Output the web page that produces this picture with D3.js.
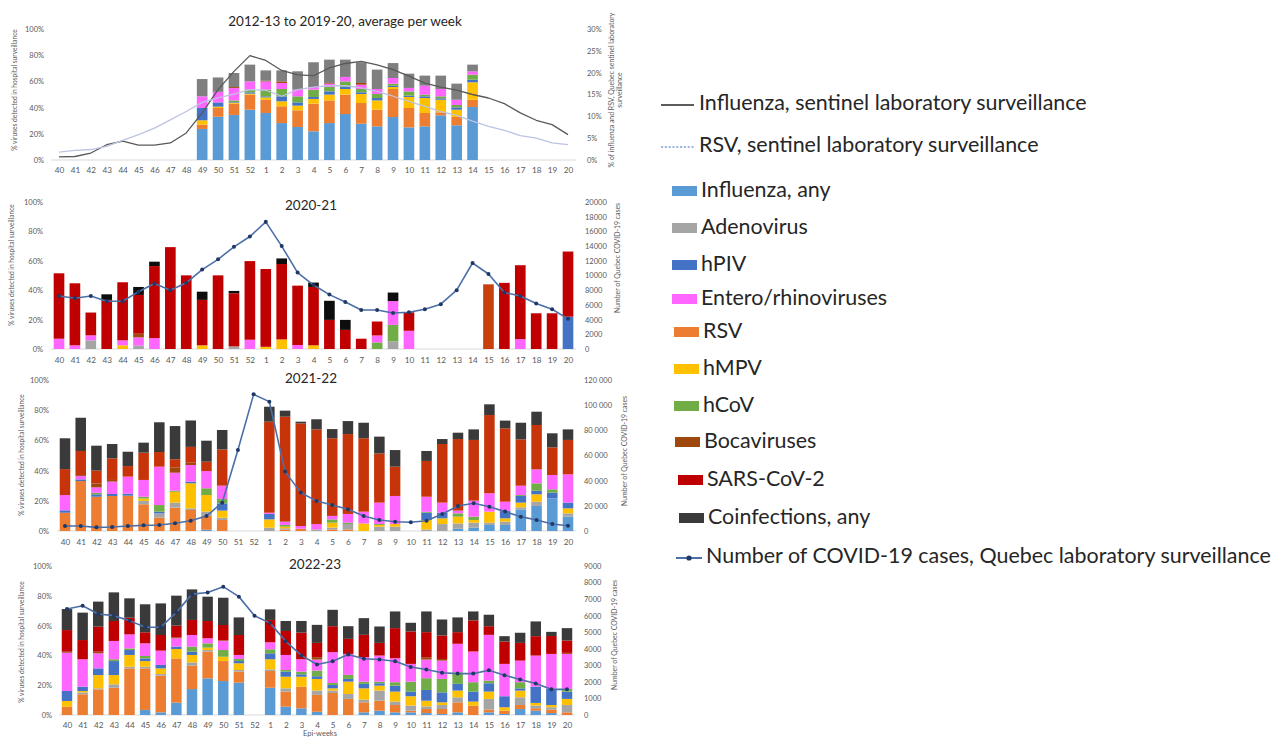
<!DOCTYPE html>
<html>
<head>
<meta charset="utf-8">
<script src="https://cdn.jsdelivr.net/npm/d3@7"></script>
<style>
  body { margin: 0; background: #fff; }
  svg { display: block; font-family: Lato, "Open Sans", sans-serif; }
</style>
</head>
<body>
<svg id="chart" width="1283" height="739"></svg>
<script>
// ---- data ----
const weeks = ["40","41","42","43","44","45","46","47","48","49","50","51","52",
  "1","2","3","4","5","6","7","8","9","10","11","12","13","14","15","16","17","18","19","20"];

// stacking order, bottom to top
const seriesKeys = ["flu","rsv","adeno","hmpv","hpiv","hcov","entero","boca","sars","coinf"];

const legendKeys = ["flu","adeno","hpiv","entero","rsv","hmpv","hcov","boca","sars","coinf"];
const legendLabels = ["Influenza, any","Adenovirus","hPIV","Entero/rhinoviruses","RSV","hMPV","hCoV",
  "Bocaviruses","SARS-CoV-2","Coinfections, any"];
const lineLegendLabels = ["Influenza, sentinel laboratory surveillance","RSV, sentinel laboratory surveillance",
  "Number of COVID-19 cases, Quebec laboratory surveillance"];

const panelTitles = ["2012-13 to 2019-20, average per week","2020-21","2021-22","2022-23"];

// % of specimens, per week: flu, rsv, adeno, hmpv, hpiv, hcov, entero, boca, sars, coinf
const bars1220 = [
  ["49", 23.7, 3.3, 0, 3.3, 9.4, 0, 8.9, 0, 0, 13.2],
  ["50", 33.0, 6.7, 0, 1.0, 3.3, 0, 8.0, 0, 0, 11.0],
  ["51", 34.4, 8.6, 0, 0.8, 0.5, 1.2, 9.5, 0.7, 0, 10.7],
  ["52", 38.4, 11.5, 0, 0.7, 1.0, 2.1, 6.3, 0, 0, 12.8],
  ["1", 35.9, 10.1, 0, 1.8, 0.8, 5.1, 6.3, 0.5, 0, 7.9],
  ["2", 28.2, 12.8, 0, 3.8, 3.8, 5.6, 4.6, 1.2, 0, 8.4],
  ["3", 25.2, 12.7, 0, 3.6, 2.5, 4.6, 5.1, 0, 0, 14.0],
  ["4", 21.9, 21.1, 0, 3.6, 1.5, 5.6, 2.0, 0, 0, 18.9],
  ["5", 28.2, 17.3, 0, 4.4, 2.5, 3.3, 2.6, 0.5, 0, 17.8],
  ["6", 35.1, 14.8, 0, 4.3, 1.5, 4.3, 3.4, 0, 0, 13.2],
  ["7", 27.7, 15.8, 0, 6.9, 1.3, 2.5, 3.3, 1.3, 0, 15.8],
  ["8", 25.7, 12.7, 0, 7.1, 1.8, 3.1, 3.8, 0, 0, 14.8],
  ["9", 32.8, 21.4, 0, 1.5, 1.0, 1.6, 4.3, 0, 0, 11.4],
  ["10", 24.9, 14.8, 0, 8.4, 1.0, 3.3, 2.6, 0, 0, 10.9],
  ["11", 25.7, 10.2, 0, 11.4, 1.3, 1.3, 6.8, 0, 0, 7.7],
  ["12", 34.1, 2.3, 0, 9.6, 1.1, 1.5, 5.6, 0, 0, 10.2],
  ["13", 26.5, 6.3, 0, 5.6, 1.8, 1.8, 4.0, 0, 0, 12.3],
  ["14", 40.5, 5.5, 0, 13.3, 2.0, 3.8, 2.6, 0, 0, 5.1]
];

const bars2021 = [
  ["40", 0, 0, 0, 0, 0, 0, 7.0, 0, 44.5, 0],
  ["41", 0, 0, 0, 0, 0, 0, 2.5, 0, 42.2, 0],
  ["42", 0, 0, 5.9, 0, 0, 0, 3.4, 0, 15.5, 0],
  ["43", 0, 0, 0, 0, 0, 0, 0, 0, 33.4, 3.8],
  ["44", 0, 0, 0, 2.5, 0, 0, 3.4, 0, 39.5, 0],
  ["45", 0, 0, 2.3, 0, 0, 0, 5.6, 2.5, 26.4, 5.4],
  ["46", 0, 0, 0, 0, 0, 0, 7.4, 0, 49.0, 3.0],
  ["47", 0, 0, 0, 0, 0, 0, 0, 0, 69.3, 0],
  ["48", 0, 0, 0, 0, 0, 0, 0, 0, 50.1, 0],
  ["49", 0, 0, 0, 2.5, 0, 0, 0, 0, 30.9, 5.6],
  ["50", 0, 0, 0, 0, 0, 0, 0, 0, 50.1, 0],
  ["51", 0, 0, 1.8, 0, 0, 0, 0, 0, 36.1, 1.6],
  ["52", 0, 0, 0, 0, 0, 0, 6.3, 0, 53.5, 0],
  ["1", 0, 0, 0, 1.5, 0, 0, 0, 0, 52.9, 0],
  ["2", 0, 0, 0, 6.5, 0, 0, 0, 0, 51.3, 3.8],
  ["3", 0, 0, 0, 0, 0, 0, 2.7, 0, 40.4, 0],
  ["4", 0, 0, 0, 2.5, 0, 0, 0, 0, 39.7, 3.0],
  ["5", 0, 0, 0, 0, 0, 0, 0, 0, 19.8, 13.0],
  ["6", 0, 0, 0, 0, 0, 0, 0, 0, 13.0, 6.8],
  ["7", 0, 0, 0, 0, 0, 0, 0, 0, 7.0, 0],
  ["8", 0, 0, 0, 0, 0, 4.5, 4.7, 0, 9.5, 0],
  ["9", 0, 0, 5.2, 0, 0, 11.2, 16.2, 0, 0, 5.8],
  ["10", 0, 0, 0, 0, 0, 0, 12.4, 0, 12.6, 0],
  ["15", 0, 0, 0, 0, 0, 0, 0, 0, 44.0, 0],
  ["16", 0, 0, 0, 0, 0, 0, 0, 0, 45.0, 0],
  ["17", 0, 0, 0, 0, 0, 0, 6.7, 0, 50.3, 0],
  ["18", 0, 0, 0, 0, 0, 0, 0, 0, 24.3, 0],
  ["19", 0, 0, 0, 0, 0, 0, 0, 0, 24.3, 0],
  ["20", 0, 0, 0, 0, 22.0, 0, 0, 0, 44.3, 0]
];

const bars2122 = [
  ["40", 0, 12.1, 0, 0, 1.6, 0, 10.1, 0, 17.2, 20.4],
  ["41", 0, 33.1, 0, 0, 1.1, 0, 2.2, 0.6, 16.0, 22.0],
  ["42", 0, 22.7, 0, 0, 1.6, 1.0, 3.6, 2.6, 8.5, 16.5],
  ["43", 0, 23.2, 0, 0, 1.3, 0, 8.2, 1.1, 14.3, 9.5],
  ["44", 0, 23.4, 0, 0, 1.3, 0, 11.3, 0, 7.0, 9.5],
  ["45", 0, 17.7, 2.2, 1.7, 0, 1.1, 11.1, 0, 18.1, 6.6],
  ["46", 0, 8.8, 2.9, 0, 1.1, 4.4, 25.4, 0, 9.7, 19.7],
  ["47", 0, 15.5, 3.3, 7.2, 0, 0.7, 11.9, 3.6, 5.3, 22.0],
  ["48", 0, 13.9, 1.1, 16.6, 1.1, 0, 11.0, 1.5, 10.5, 17.5],
  ["49", 0.8, 9.2, 2.8, 11.0, 0, 4.5, 11.4, 0, 6.2, 13.9],
  ["50", 0, 7.3, 1.5, 4.7, 4.8, 2.9, 8.8, 0, 24.0, 12.9],
  ["1", 0, 0, 2.2, 5.5, 3.6, 0, 0.8, 0, 60.3, 9.9],
  ["2", 0, 1.0, 0.8, 1.1, 0, 1.1, 2.2, 0, 69.5, 4.0],
  ["3", 0, 1.5, 0, 0, 0, 0, 1.8, 0, 68.0, 1.1],
  ["4", 0, 0, 1.0, 0, 0, 0, 3.6, 0, 62.7, 6.7],
  ["5", 0, 1.0, 1.2, 3.3, 0, 2.2, 2.3, 0, 51.4, 6.1],
  ["6", 0, 1.0, 3.6, 0, 0, 0.9, 5.8, 0, 52.9, 8.6],
  ["7", 0, 0, 0, 5.0, 0, 0, 7.8, 0, 48.6, 10.3],
  ["8", 0, 0, 2.9, 1.1, 0, 0.6, 14.2, 0, 32.6, 11.1],
  ["9", 0, 0, 2.9, 1.7, 0, 0, 18.6, 0, 19.4, 11.0],
  ["11", 0, 0, 1.0, 6.3, 4.8, 0.6, 10.0, 0, 23.7, 6.6],
  ["12", 0, 0, 4.6, 3.8, 3.7, 0, 6.7, 0, 38.8, 3.3],
  ["13", 1.5, 0, 3.5, 4.5, 0, 2.2, 1.8, 0, 47.4, 4.2],
  ["14", 2.2, 0, 3.3, 1.8, 0, 2.2, 10.6, 0, 40.2, 7.0],
  ["15", 4.0, 0, 1.5, 7.3, 0, 0, 12.2, 0, 51.8, 7.1],
  ["16", 4.0, 0, 2.2, 2.2, 4.8, 0, 6.2, 0, 48.6, 5.1],
  ["17", 14.3, 0, 1.4, 3.1, 4.4, 0.6, 6.2, 0, 30.7, 11.0],
  ["18", 16.6, 0, 2.8, 4.9, 2.4, 4.9, 9.2, 0, 29.4, 8.8],
  ["19", 21.6, 0, 0, 0, 3.8, 2.2, 9.5, 0, 18.3, 9.3],
  ["20", 9.5, 0, 2.2, 3.3, 3.8, 0, 18.7, 0, 22.8, 7.0]
];

const bars2223 = [
  ["40", 0, 5.6, 0, 3.8, 6.7, 0, 25.7, 0.7, 14.5, 14.1],
  ["41", 0, 13.9, 1.3, 0.9, 2.9, 0, 18.4, 0, 12.9, 18.4],
  ["42", 0, 17.2, 0.7, 8.9, 4.5, 0, 10.1, 1.1, 16.8, 16.8],
  ["43", 0, 18.3, 2.3, 6.2, 9.4, 1.2, 12.3, 0, 13.4, 19.2],
  ["44", 0, 31.3, 1.1, 7.9, 3.3, 1.1, 9.4, 0, 11.2, 13.0],
  ["45", 3.4, 27.9, 1.1, 3.8, 1.8, 1.6, 8.5, 0, 7.4, 18.8],
  ["46", 1.8, 24.6, 1.1, 3.8, 2.3, 0, 9.6, 0, 10.5, 21.2],
  ["47", 8.3, 29.7, 0, 6.3, 1.6, 0, 5.6, 0.5, 8.0, 20.1],
  ["48", 17.4, 15.7, 2.2, 5.0, 2.2, 3.4, 7.8, 0, 10.1, 20.5],
  ["49", 24.6, 17.9, 1.1, 1.6, 0, 2.9, 3.4, 0, 11.6, 16.3],
  ["50", 22.8, 13.4, 0, 2.9, 0, 4.5, 6.2, 0.5, 10.1, 18.3],
  ["51", 21.7, 7.4, 1.1, 4.5, 1.5, 1.4, 2.7, 0, 13.4, 11.8],
  ["1", 18.3, 11.2, 1.1, 6.8, 4.0, 2.7, 4.7, 0, 15.0, 7.1],
  ["2", 5.6, 10.1, 2.2, 7.8, 3.4, 1.1, 10.1, 0, 16.1, 6.7],
  ["3", 4.5, 14.5, 0, 6.7, 1.6, 1.8, 8.3, 0, 17.9, 7.8],
  ["4", 2.2, 11.3, 2.9, 7.8, 1.8, 3.8, 7.4, 1.6, 9.6, 12.1],
  ["5", 0, 14.8, 1.6, 1.5, 2.3, 1.3, 20.7, 0, 17.4, 11.0],
  ["6", 0, 10.8, 3.3, 8.3, 1.8, 2.7, 14.1, 0, 10.1, 8.5],
  ["7", 1.8, 6.7, 1.8, 7.6, 3.0, 1.5, 16.4, 0, 15.0, 11.2],
  ["8", 2.9, 6.7, 6.8, 3.3, 1.6, 1.1, 17.5, 0, 8.5, 11.0],
  ["9", 1.8, 4.9, 2.3, 6.7, 4.0, 2.3, 16.1, 0, 20.2, 11.2],
  ["10", 1.8, 1.1, 3.4, 6.3, 3.1, 6.7, 11.9, 0, 21.8, 5.8],
  ["11", 1.3, 2.7, 1.8, 3.8, 7.2, 7.9, 12.5, 1.6, 16.8, 13.9],
  ["12", 0.7, 3.3, 2.7, 1.8, 6.7, 9.0, 12.3, 1.1, 15.8, 10.7],
  ["13", 1.8, 6.7, 3.4, 4.5, 4.5, 7.8, 19.1, 0, 7.8, 9.9],
  ["14", 0, 6.3, 0, 2.7, 6.7, 6.3, 20.6, 0, 20.9, 6.0],
  ["15", 1.8, 1.8, 7.2, 4.9, 5.6, 1.8, 30.7, 0, 5.8, 7.7],
  ["16", 0.7, 2.2, 0, 2.3, 7.4, 0, 21.7, 0, 15.0, 3.6],
  ["17", 4.0, 2.7, 5.2, 4.5, 1.5, 4.1, 14.5, 0, 11.9, 6.8],
  ["18", 2.9, 1.6, 1.8, 1.8, 11.0, 0, 20.8, 0, 13.0, 9.9],
  ["19", 1.3, 2.3, 1.6, 1.5, 10.8, 0, 23.5, 0, 12.0, 2.8],
  ["20", 0, 1.8, 4.9, 4.1, 4.9, 1.8, 23.5, 0.7, 8.3, 8.3]
];

// sentinel surveillance, % positive (right axis of first panel)
const fluSentinel = [0.7,0.8,1.6,3.5,4.3,3.4,3.4,3.9,6.2,10.8,16.1,20.3,23.9,
  22.8,20.5,19.5,19.3,21.1,22.1,22.6,21.8,20.7,19.2,17.6,16.7,16.0,15.0,14.2,12.9,10.8,9.1,8.1,5.8];
const rsvSentinel = [1.8,2.2,2.4,3.1,4.5,5.8,7.3,9.2,11.1,13.2,14.2,15.1,16.1,
  16.0,14.6,16.1,16.7,17.0,17.0,16.5,15.7,14.6,13.4,12.3,11.1,10.2,8.9,7.7,6.8,5.6,5.0,3.9,3.5];

// number of COVID-19 cases per week
const covid2021 = [7200,6900,7200,6500,6500,7800,8900,8000,9000,10800,12200,13900,15300,
  17300,14000,10400,8700,7400,6400,5300,5300,4900,5000,5400,6100,8000,11700,10200,7700,7200,6200,5400,4100];
const covid2122 = [4000,4000,2900,3200,4000,4500,4800,6100,8200,11900,22500,64400,108600,
  102800,47200,30500,23800,20700,17200,11900,8700,7400,6900,8200,13500,19900,22000,19300,15400,11400,8700,5600,4200];
const covid2223 = [6400,6600,6100,6000,5700,5300,5300,6200,7300,7400,7750,7150,6000,
  5550,4450,3600,3050,3250,3650,3400,3350,3250,2900,2750,2550,2500,2500,2700,2400,2150,1900,1550,1550];

// ---- styles ----
const colors = {
  flu: "#5b9bd5", adeno: "#a5a5a5", hpiv: "#4472c4", entero: "#ff66ff", rsv: "#ed7d31",
  hmpv: "#ffc000", hcov: "#70ad47", boca: "#9e480e", sars: "#c00000", coinf: "#404040"
};
const tickColor = "#595959";
const covidLine = "#4c6fa8", covidDot = "#1f3864";

const svg = d3.select("#chart");
const stack = d3.stack().keys(seriesKeys);

function toRows(bars) {
  return bars.map(b => {
    const o = { week: b[0] };
    seriesKeys.forEach((k, i) => o[k] = b[i + 1]);
    return o;
  });
}

function vtext(g, x, y, str, size) {
  g.append("text")
    .attr("transform", `translate(${x},${y}) rotate(-90)`)
    .attr("text-anchor", "middle")
    .attr("dominant-baseline", "middle")
    .attr("font-size", size)
    .attr("fill", tickColor)
    .text(str);
}

function drawPanel(p) {
  const g = svg.append("g");
  const x = d3.scalePoint().domain(weeks).range([p.x0, p.x1]);
  const step = x.step(), bw = step * 0.67;
  const y = d3.scaleLinear().domain([0, 100]).range([p.yBot, p.yTop]);
  const y2 = d3.scaleLinear().domain([0, p.rightMax]).range([p.yBot, p.yTop]);

  g.append("line")
    .attr("x1", p.x0 - step / 2).attr("x2", p.x1 + step / 2)
    .attr("y1", p.yBot).attr("y2", p.yBot)
    .attr("stroke", "#d9d9d9").attr("stroke-width", 1);

  const layers = stack(toRows(p.bars));
  g.selectAll("g.layer").data(layers).join("g")
    .selectAll("rect")
    .data(l => l.map(s => ({ s, key: l.key })))
    .join("rect")
    .attr("x", d => x(d.s.data.week) - bw / 2)
    .attr("width", bw)
    .attr("y", d => y(d.s[1]))
    .attr("height", d => Math.max(0, y(d.s[0]) - y(d.s[1])))
    .attr("fill", d => {
      if (d.key === "sars" && p.altWeeks && p.altWeeks.includes(d.s.data.week)) return p.altColor;
      return (p.colors && p.colors[d.key]) || colors[d.key];
    });

  // lines
  p.lines.forEach(ln => {
    const line = d3.line().x((v, i) => x(weeks[i])).y(v => y2(v));
    g.append("path").datum(ln.values)
      .attr("d", line).attr("fill", "none")
      .attr("stroke", ln.color).attr("stroke-width", ln.width)
      .attr("stroke-linejoin", "round");
    if (ln.dots) {
      g.selectAll(null).data(ln.values).join("circle")
        .attr("cx", (v, i) => x(weeks[i])).attr("cy", v => y2(v))
        .attr("r", 2).attr("fill", covidDot);
    }
  });

  // axes
  const left = g.append("g").attr("transform", `translate(${p.leftX},0)`)
    .call(d3.axisLeft(y).tickValues([0, 20, 40, 60, 80, 100]).tickSize(0).tickPadding(0)
      .tickFormat(d => d + "%"));
  const right = g.append("g").attr("transform", `translate(${p.rightX},0)`)
    .call(d3.axisRight(y2).tickValues(p.rightTicks).tickSize(0).tickPadding(0).tickFormat(p.rightFmt));
  const bottom = g.append("g").attr("transform", `translate(0,${p.yBot})`)
    .call(d3.axisBottom(x).tickSize(0).tickPadding(p.xPad));
  [left, right].forEach(a => a.selectAll("text").attr("font-size", 7.5).attr("fill", tickColor)
    .attr("font-family", "Lato, sans-serif"));
  bottom.selectAll("text").attr("font-size", 8.2).attr("fill", tickColor).attr("font-family", "Lato, sans-serif");
  [left, right, bottom].forEach(a => a.select(".domain").remove());

  // titles
  g.append("text").attr("x", p.title[0]).attr("y", p.title[1])
    .attr("text-anchor", "middle").attr("dominant-baseline", "middle")
    .attr("font-size", 13.5).attr("fill", "#262626").text(p.titleText);
  vtext(g, p.leftTitle[0], p.leftTitle[1], "% viruses detected in hospital surveillance", 6.6);
  p.rightTitle.forEach(t => vtext(g, t[0], t[1], t[2], 6.9));
}

const pctFmt = d => d + "%";
const spaceFmt = d => d3.format(",")(d).replace(/,/g, " ");

const panels = [
  { titleText: panelTitles[0], bars: bars1220, x0: 59, x1: 568, yTop: 29, yBot: 160, leftX: 44, rightX: 587, xPad: 7.3,
    rightMax: 30, rightTicks: [0, 5, 10, 15, 20, 25, 30], rightFmt: pctFmt,
    title: [345, 23], leftTitle: [15, 90],
    rightTitle: [[612, 90, "% of influenza and RSV, Quebec sentinel laboratory"], [620, 90, "surveillance"]],
    colors: { coinf: "#7f7f7f" },
    lines: [{ values: fluSentinel, color: "#595959", width: 1.3 }, { values: rsvSentinel, color: "#bcc3e3", width: 1.3 }] },
  { titleText: panelTitles[1], bars: bars2021, x0: 59, x1: 568, yTop: 202, yBot: 349, leftX: 43, rightX: 585, xPad: 8.3,
    rightMax: 20000, rightTicks: d3.range(0, 20001, 2000), rightFmt: d => String(d),
    title: [311, 207], leftTitle: [12, 265],
    rightTitle: [[618, 258, "Number of Quebec COVID-19 cases"]],
    colors: { coinf: "#0d0d0d" }, altWeeks: ["15"], altColor: "#c8400c",
    lines: [{ values: covid2021, color: covidLine, width: 1.6, dots: true }] },
  { titleText: panelTitles[2], bars: bars2122, x0: 65, x1: 568, yTop: 380, yBot: 531, leftX: 49, rightX: 584, xPad: 8.3,
    rightMax: 120000, rightTicks: d3.range(0, 120001, 20000), rightFmt: spaceFmt,
    title: [311, 380], leftTitle: [22, 455],
    rightTitle: [[625, 451, "Number of Quebec COVID-19 cases"]],
    colors: { sars: "#c83409", coinf: "#3a3a3a" },
    lines: [{ values: covid2122, color: covidLine, width: 1.6, dots: true }] },
  { titleText: panelTitles[3], bars: bars2223, x0: 67, x1: 567, yTop: 566, yBot: 715, leftX: 52, rightX: 584, xPad: 7.3,
    rightMax: 9000, rightTicks: d3.range(0, 9001, 1000), rightFmt: d => String(d),
    title: [315, 566], leftTitle: [22, 642],
    rightTitle: [[615, 635, "Number of Quebec COVID-19 cases"]],
    colors: { coinf: "#3a3a3a" },
    lines: [{ values: covid2223, color: covidLine, width: 1.6, dots: true }] }
];

panels.forEach(drawPanel);

svg.append("text").attr("x", 320).attr("y", 736).attr("text-anchor", "middle")
  .attr("font-size", 7.5).attr("fill", tickColor).text("Epi-weeks");

// ---- legend ----
const lg = svg.append("g").attr("fill", "#262626");
const swatchPos = [[672, 191], [672, 228], [672, 265], [672, 299], [674, 332], [674, 369],
  [674, 406], [675, 442], [678, 480], [679, 518]];

// pick a font size so the longest entries span the same width as in the picture
function fitSize(str, target) {
  const probe = lg.append("text").attr("font-size", 20).text(str);
  const w = probe.node().getComputedTextLength();
  probe.remove();
  return 20 * target / w;
}
const fs = Math.min(fitSize(lineLegendLabels[0], 399), fitSize(lineLegendLabels[2], 565));

function legendText(x, y, str) {
  lg.append("text").attr("x", x).attr("y", y).attr("dominant-baseline", "middle")
    .attr("font-size", fs).text(str);
}

lg.append("line").attr("x1", 661).attr("x2", 694).attr("y1", 105).attr("y2", 105)
  .attr("stroke", "#262626").attr("stroke-width", 1.6);
legendText(699, 105, lineLegendLabels[0]);
lg.append("line").attr("x1", 661).attr("x2", 694).attr("y1", 147).attr("y2", 147)
  .attr("stroke", "#4472c4").attr("stroke-width", 1.2).attr("stroke-dasharray", "2.2,1.6");
legendText(699, 147, lineLegendLabels[1]);

legendKeys.forEach((k, i) => {
  const [sx, sy] = swatchPos[i];
  lg.append("rect").attr("x", sx).attr("y", sy - 5).attr("width", 25).attr("height", 10)
    .attr("fill", (k === "coinf") ? "#3a3a3a" : colors[k]);
  legendText(sx + 29, sy + 1, legendLabels[i]);
});

lg.append("line").attr("x1", 676).attr("x2", 702).attr("y1", 558).attr("y2", 558)
  .attr("stroke", covidLine).attr("stroke-width", 2);
lg.append("circle").attr("cx", 689).attr("cy", 558).attr("r", 2.6).attr("fill", covidDot);
legendText(706, 558, lineLegendLabels[2]);
</script>
</body>
</html>
